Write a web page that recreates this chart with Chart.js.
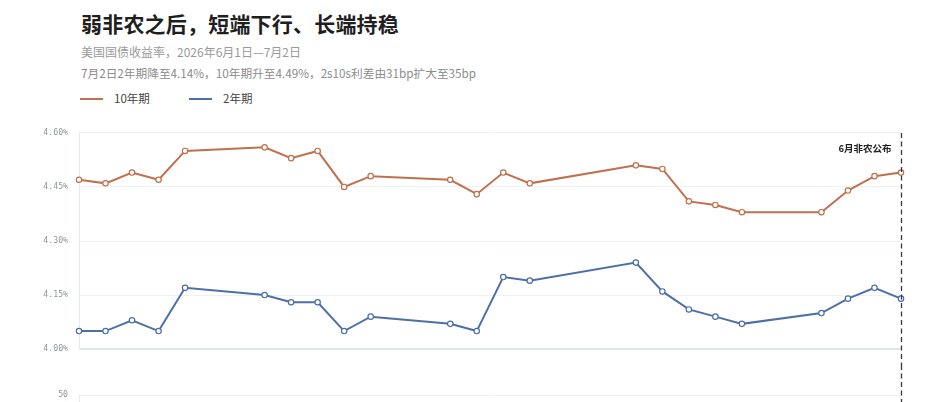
<!DOCTYPE html>
<html>
<head>
<meta charset="utf-8">
<script src="https://cdn.jsdelivr.net/npm/chart.js@4.4.1/dist/chart.umd.min.js"></script>
<style>
  html, body { margin: 0; padding: 0; background: #fff; overflow: hidden; }
  body { width: 945px; height: 402px; position: relative; font-family: "Noto Sans CJK SC", "Noto Sans", sans-serif; }
  .title { position: absolute; left: 81px; top: 8px; font-size: 21px; font-weight: 700; color: #1f1f1f; letter-spacing: 0.2px; }
  .sub { position: absolute; left: 81px; font-size: 12px; color: #9a9a9a; white-space: nowrap; }
  .legend { position: absolute; top: 90px; font-size: 11.5px; color: #444; white-space: nowrap; }
  .legend i { display: inline-block; width: 23px; height: 2px; vertical-align: middle; margin-right: 11px; position: relative; top: -1px; }
  #c1 { position: absolute; left: 0; top: 117px; width: 945px; height: 248px; }
  #c2 { position: absolute; left: 0; top: 365px; width: 945px; height: 220px; }
</style>
</head>
<body>
<div class="title">弱非农之后，短端下行、长端持稳</div>
<div class="sub" style="top:43px">美国国债收益率，2026年6月1日—7月2日</div>
<div class="sub" style="top:64px;color:#8c8c8c;font-size:11.7px">7月2日2年期降至4.14%，10年期升至4.49%，2s10s利差由31bp扩大至35bp</div>
<div class="legend" style="left:80px"><i style="background:#c0704c"></i>10年期</div>
<div class="legend" style="left:189px"><i style="background:#4d6fa8"></i>2年期</div>
<canvas id="c1" width="945" height="248"></canvas>
<canvas id="c2" width="945" height="220"></canvas>
<script>
// trading days, 2026-06-01 .. 2026-07-02 (Juneteenth closed)
const dates = ['2026-06-01','2026-06-02','2026-06-03','2026-06-04','2026-06-05',
  '2026-06-08','2026-06-09','2026-06-10','2026-06-11','2026-06-12',
  '2026-06-15','2026-06-16','2026-06-17','2026-06-18',
  '2026-06-22','2026-06-23','2026-06-24','2026-06-25','2026-06-26',
  '2026-06-29','2026-06-30','2026-07-01','2026-07-02'];
const y10 = [4.47,4.46,4.49,4.47,4.55, 4.56,4.53,4.55,4.45,4.48, 4.47,4.43,4.49,4.46, 4.51,4.50,4.41,4.40,4.38, 4.38,4.44,4.48,4.49];
const y2  = [4.05,4.05,4.08,4.05,4.17, 4.15,4.13,4.13,4.05,4.09, 4.07,4.05,4.20,4.19, 4.24,4.16,4.11,4.09,4.07, 4.10,4.14,4.17,4.14];
const spreadBp = [42,41,41,42,38, 41,40,42,40,39, 40,38,29,27, 27,34,30,31,31, 28,30,31,35];
const yTicks = [4.00, 4.15, 4.30, 4.45, 4.60];
const eventDate = '2026-07-02';
const eventLabel = '6月非农公布';

const ORANGE = '#c0704c', BLUE = '#4d6fa8';
const day0 = Date.UTC(2026, 5, 1);
function dayIdx(s) { const p = s.split('-'); return (Date.UTC(+p[0], +p[1] - 1, +p[2]) - day0) / 86400000; }
const xs = dates.map(dayIdx);
const xMax = dayIdx(eventDate);

function series(vals) { return vals.map((v, i) => ({ x: xs[i], y: v })); }

const tickFont = { family: '"DejaVu Sans Mono", monospace', size: 8.2 };

const eventLine = {
  id: 'eventLine',
  afterDatasetsDraw(chart, args, opts) {
    const { ctx, chartArea } = chart;
    const x = Math.round(chart.scales.x.getPixelForValue(xMax)) + 0.5;
    ctx.save();
    ctx.strokeStyle = '#3a3a3a';
    ctx.lineWidth = 1.3;
    ctx.setLineDash([5, 3.5]);
    ctx.beginPath();
    ctx.moveTo(x, opts.fromTop ? 0 : chartArea.top);
    ctx.lineTo(x, chart.height);
    ctx.stroke();
    if (opts.label) {
      ctx.setLineDash([]);
      ctx.fillStyle = '#222';
      ctx.font = 'bold 9.5px "Noto Sans CJK SC", sans-serif';
      ctx.textAlign = 'right';
      ctx.textBaseline = 'middle';
      ctx.fillText(opts.label, x - 10, chartArea.top + 15);
    }
    ctx.restore();
  }
};

function yAxis(extra) {
  return Object.assign({
    position: 'left',
    afterFit(s) { s.width = 79; },
    border: { display: true, color: '#e4eaf2', width: 1 },
    grid: { drawTicks: false, color: '#ebf1f8', lineWidth: 1 },
    ticks: { padding: 11, color: '#8e939b', font: tickFont }
  }, extra);
}

new Chart(document.getElementById('c1'), {
  type: 'line',
  data: {
    datasets: [
      { label: '10年期', data: series(y10), borderColor: ORANGE, backgroundColor: '#fff' },
      { label: '2年期', data: series(y2), borderColor: BLUE, backgroundColor: '#fff' }
    ]
  },
  options: {
    responsive: false,
    animation: false,
    layout: { padding: { top: 13, right: 44, bottom: 12, left: 0 } },
    elements: {
      line: { borderWidth: 2, tension: 0 },
      point: { radius: 2.7, borderWidth: 1.2, pointStyle: 'circle' }
    },
    datasets: { line: { clip: false, pointBackgroundColor: '#fff' } },
    plugins: { legend: { display: false }, tooltip: { enabled: false }, eventLine: { label: eventLabel } },
    scales: {
      x: { type: 'linear', min: 0, max: xMax, display: false },
      y: yAxis({
        min: yTicks[0], max: yTicks[yTicks.length - 1],
        afterBuildTicks(s) { s.ticks = yTicks.map(v => ({ value: v })); },
        grid: {
          drawTicks: false, lineWidth: c => c.index === 0 ? 2 : 1,
          color: c => c.index === 0 ? '#dde4ed' : '#ebf1f8'
        },
        ticks: { padding: 11, color: '#8e939b', font: tickFont, callback: v => v.toFixed(2) + '%' }
      })
    }
  },
  plugins: [eventLine]
});

// spread panel (only its top edge is inside the frame)
new Chart(document.getElementById('c2'), {
  type: 'bar',
  data: {
    datasets: [{ label: '2s10s', data: series(spreadBp), backgroundColor: '#9fb3d1', barThickness: 14 }]
  },
  options: {
    responsive: false,
    animation: false,
    layout: { padding: { top: 30, right: 44, bottom: 12, left: 0 } },
    plugins: { legend: { display: false }, tooltip: { enabled: false }, eventLine: { fromTop: true } },
    scales: {
      x: { type: 'linear', min: 0, max: xMax, display: false, offset: false },
      y: yAxis({ min: 0, max: 50, ticks: { padding: 11, color: '#8e939b', font: tickFont, stepSize: 10 } })
    }
  },
  plugins: [eventLine]
});
</script>
</body>
</html>
